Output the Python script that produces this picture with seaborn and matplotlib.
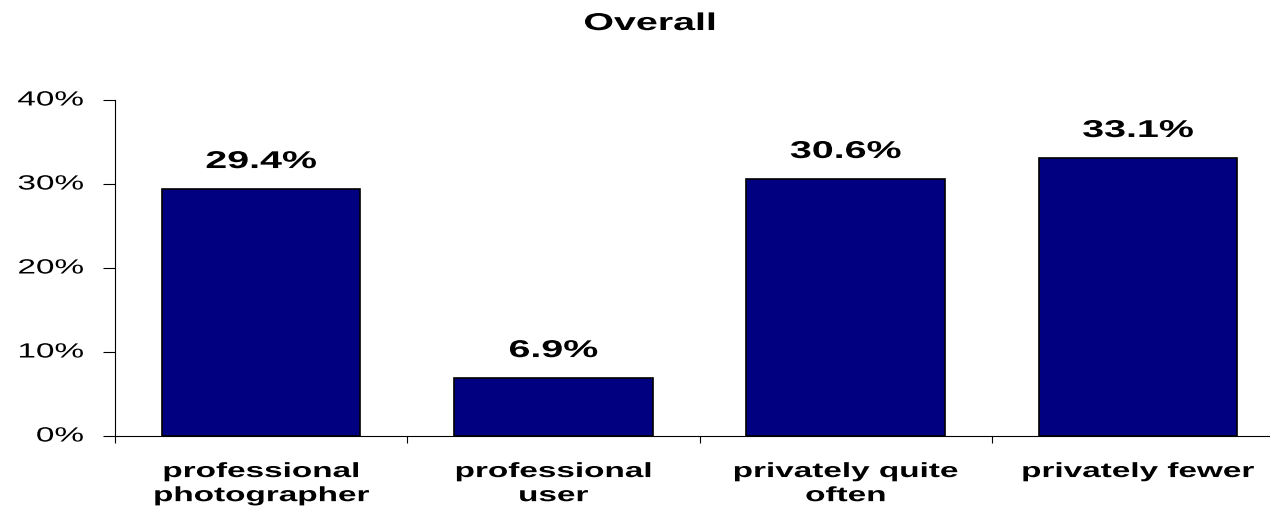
import matplotlib
matplotlib.use("Agg")
import matplotlib.pyplot as plt
import seaborn as sns
import pandas as pd
from matplotlib.patheffects import AbstractPathEffect
from matplotlib.transforms import Affine2D, ScaledTranslation

categories = ["professional\nphotographer", "professional\nuser", "privately quite\noften", "privately fewer"]
values = [29.4, 6.9, 30.6, 33.1]
yticks = [0, 10, 20, 30, 40]

sns.set_theme(style="white")
plt.rcParams["font.family"] = ["Liberation Sans", "DejaVu Sans"]


class Widen(AbstractPathEffect):
    """Draw text glyphs stretched horizontally about an anchor edge."""

    def __init__(self, sx, anchor="center"):
        super().__init__()
        self.sx = sx
        self.anchor = anchor

    def draw_path(self, renderer, gc, tpath, affine, rgbFace=None):
        ext = tpath.get_extents(affine)
        if self.anchor == "right":
            cx = ext.x1
        elif self.anchor == "left":
            cx = ext.x0
        else:
            cx = 0.5 * (ext.x0 + ext.x1)
        stretch = Affine2D().translate(-cx, 0).scale(self.sx, 1).translate(cx, 0)
        renderer.draw_path(gc, tpath, affine + stretch, rgbFace)


SX = 1.62

df = pd.DataFrame({"category": categories, "value": values})

fig = plt.figure(figsize=(12.7, 5.12), dpi=100)
ax = fig.add_axes([115 / 1270, 76 / 512, 1169 / 1270, 336 / 512])

sns.barplot(data=df, x="category", y="value", color="#000080", width=0.68,
            edgecolor="black", linewidth=1.2, saturation=1, ax=ax)

ax.set_xlim(-0.5, 3.5)
ax.set_ylim(0, 40)
ax.set_yticks(yticks)
ax.set_yticklabels([f"{t}%" for t in yticks], fontsize=14.8, color="black")
ax.set_xticks([-0.5, 0.5, 1.5, 2.5, 3.5])
ax.set_xticklabels([])
ax.tick_params(axis="y", direction="out", length=8.6, width=0.8, color="black",
               left=True, pad=14)
ax.tick_params(axis="x", direction="out", length=5, width=0.8, color="black",
               bottom=True)
lift = ScaledTranslation(0, 2 / 100, fig.dpi_scale_trans)
for lbl in ax.get_yticklabels():
    lbl.set_path_effects([Widen(SX, "right")])
    lbl.set_transform(lbl.get_transform() + lift)

for i, c in enumerate(categories):
    ax.text(i, -3.1, c, ha="center", va="top", fontsize=14.8, fontweight="bold",
            color="black", linespacing=1.34, path_effects=[Widen(SX)])

for i, v in enumerate(values):
    ax.text(i, v + 2.5, f"{v:.1f}%", ha="center", va="baseline", fontsize=17.5,
            fontweight="bold", color="black", path_effects=[Widen(SX)])

ax.set_xlabel("")
ax.set_ylabel("")
for side in ["top", "right"]:
    ax.spines[side].set_visible(False)
for side in ["left", "bottom"]:
    ax.spines[side].set_color("black")
    ax.spines[side].set_linewidth(0.8)

fig.text(650 / 1270, 1 - 30 / 512, "Overall", ha="center", va="baseline",
         fontsize=17.5, fontweight="bold", color="black",
         path_effects=[Widen(SX)])

fig.savefig("out.png", dpi=100, facecolor="white")
